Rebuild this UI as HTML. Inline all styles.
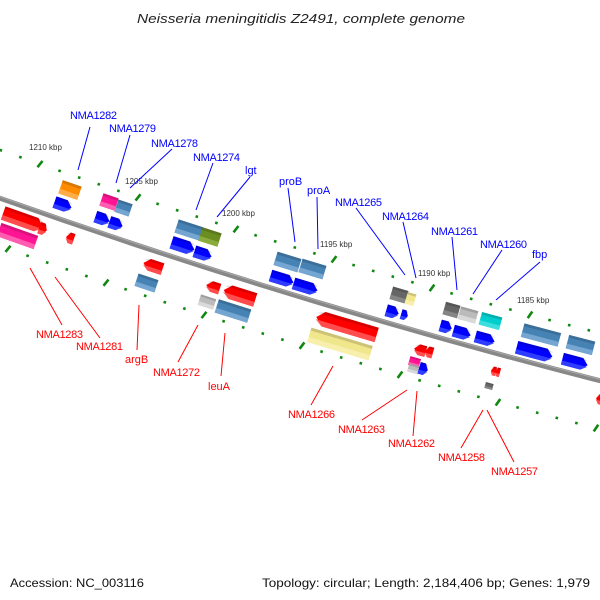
<!DOCTYPE html>
<html><head><meta charset="utf-8"><style>
body{margin:0;background:#fff;width:600px;height:600px;overflow:hidden}
svg{display:block}
text{font-family:"Liberation Sans","DejaVu Sans",sans-serif}
</style></head><body>
<svg id="s" width="600" height="600" viewBox="0 0 600 600" xmlns="http://www.w3.org/2000/svg">
<text x="137" y="23" textLength="328" lengthAdjust="spacingAndGlyphs" font-size="13" font-style="italic" fill="#222">Neisseria meningitidis Z2491, complete genome</text>
<path d="M-5,196.5 Q300,304.5 605,382" stroke="#888" stroke-width="5" fill="none"/>
<path d="M-5,195 Q300,303 605,380.5" stroke="#aaa" stroke-width="1" fill="none"/>
<g id="ticks"></g>
<g id="feats"></g>
<g font-size="8" fill="#333">
<text x="29" y="150">1210 kbp</text><text x="125" y="184">1205 kbp</text><text x="222" y="216">1200 kbp</text>
<text x="320" y="247">1195 kbp</text><text x="418" y="276">1190 kbp</text><text x="517" y="303">1185 kbp</text>
</g>
<g font-size="11" fill="#0000ff">
<text x="70" y="119" textLength="47">NMA1282</text><text x="109" y="132" textLength="47">NMA1279</text><text x="151" y="147" textLength="47">NMA1278</text>
<text x="193" y="161" textLength="47">NMA1274</text><text x="245" y="174">lgt</text><text x="279" y="185">proB</text>
<text x="307" y="194">proA</text><text x="335" y="206" textLength="47">NMA1265</text><text x="382" y="220" textLength="47">NMA1264</text>
<text x="431" y="235" textLength="47">NMA1261</text><text x="480" y="248" textLength="47">NMA1260</text><text x="532" y="258">fbp</text>
</g>
<g stroke="#0000ff" stroke-width="1">
<line x1="90" y1="127" x2="78" y2="170"/><line x1="130" y1="135" x2="116" y2="183"/><line x1="172" y1="149" x2="130" y2="188"/>
<line x1="213" y1="163" x2="196" y2="210"/><line x1="250" y1="177" x2="217" y2="217"/><line x1="288" y1="188" x2="295" y2="242"/>
<line x1="317" y1="197" x2="318" y2="249"/><line x1="356" y1="208" x2="405" y2="275"/><line x1="403" y1="222" x2="416" y2="278"/>
<line x1="452" y1="237" x2="457" y2="290"/><line x1="502" y1="250" x2="473" y2="294"/><line x1="540" y1="262" x2="496" y2="300"/>
</g>
<g font-size="11" fill="#ff0000">
<text x="36" y="338" textLength="47">NMA1283</text><text x="76" y="350" textLength="47">NMA1281</text><text x="125" y="363">argB</text>
<text x="153" y="376" textLength="47">NMA1272</text><text x="208" y="390">leuA</text><text x="288" y="418" textLength="47">NMA1266</text>
<text x="338" y="433" textLength="47">NMA1263</text><text x="388" y="447" textLength="47">NMA1262</text><text x="438" y="461" textLength="47">NMA1258</text>
<text x="491" y="475" textLength="47">NMA1257</text>
</g>
<g stroke="#ff0000" stroke-width="1">
<line x1="30" y1="268" x2="62" y2="325"/><line x1="55" y1="277" x2="100" y2="338"/><line x1="139" y1="305" x2="137" y2="350"/>
<line x1="198" y1="325" x2="178" y2="362"/><line x1="225" y1="333" x2="221" y2="376"/><line x1="333" y1="366" x2="311" y2="405"/>
<line x1="407" y1="390" x2="362" y2="420"/><line x1="417" y1="391" x2="413" y2="436"/><line x1="483" y1="410" x2="461" y2="448"/>
<line x1="487" y1="410" x2="514" y2="462"/>
</g>
<text x="10" y="587" font-size="12" fill="#111" textLength="134" lengthAdjust="spacingAndGlyphs">Accession: NC_003116</text>
<text x="262" y="587" font-size="12" fill="#111" textLength="328" lengthAdjust="spacingAndGlyphs">Topology: circular; Length: 2,184,406 bp; Genes: 1,979</text>
</svg>
<script>
var NS="http://www.w3.org/2000/svg";
function yl(x){return 198+0.355*x-8.3e-5*x*x;}
function ang(x){return Math.atan(0.355-2*8.3e-5*x)*180/Math.PI;}
function el(p,tag,a){var e=document.createElementNS(NS,tag);for(var k in a)e.setAttribute(k,a[k]);p.appendChild(e);return e;}
var T=document.getElementById("ticks");
for(var i=-3;i<34;i++){var x=40+i*19.6;var big=(i%5==0);
 [[-48],[48]].forEach(function(o){var xx=o[0]>0?x-32:x;var y=yl(xx)+o[0];
  var g=el(T,"g",{transform:"translate("+xx+","+y+") rotate("+(ang(xx)+(big?-70:0))+")"});
  el(g,"rect",{x:big?-4:-1.3,y:-1.3,width:big?8:2.6,height:2.6,fill:"#118811"});});}
var F=document.getElementById("feats");
function f(x1,x2,cy,h,col,lt,type){var cx=(x1+x2)/2,w=x2-x1;
 var g=el(F,"g",{transform:"translate("+cx+","+cy+") rotate("+ang(cx)+")"});
 var hw=w/2,hh=h/2,a=Math.min(h*0.5,w*0.4),p;
 if(type=="r")p=[[-hw,-hh],[hw-a,-hh],[hw,0],[hw-a,hh],[-hw,hh]];
 else if(type=="l")p=[[hw,-hh],[-hw+a,-hh],[-hw,0],[-hw+a,hh],[hw,hh]];
 else p=[[-hw,-hh],[hw,-hh],[hw,hh],[-hw,hh]];
 el(g,"polygon",{points:p.map(function(q){return q.join(",")}).join(" "),fill:col});
 el(g,"polygon",{points:p.map(function(q){return q[0]+","+Math.max(q[1],hh*0.3)}).join(" "),fill:lt,opacity:0.9});
 el(g,"polygon",{points:p.map(function(q){return q[0]+","+Math.min(q[1],-hh*0.6)}).join(" "),fill:"#000",opacity:0.15});}
var R="#ff0000",RL="#ff5555",B="#0000ff",BL="#3344ff",S="#4682b4",SL="#7aa9d4",Y="#f0e68c",YL="#f8f0b0";
f(2,44,220,14,R,RL,"r");f(39,47,229,12,R,RL,"r");f(-2,37,236,14,"#ff1493","#ff66b4","b");
f(66,74,238,11,R,RL,"l");
f(60,80,190,14,"#ff8c00","#ffb050","b");f(54,72,205,12,B,BL,"r");
f(101,117,202,13,"#ff1493","#ff66b4","b");f(116,131,208,13,S,SL,"b");f(95,110,219,12,B,BL,"r");f(109,123,224,12,B,BL,"r");
f(176,202,230,14,S,SL,"b");f(200,220,237,14,"#6b8e23","#8faf40","b");f(171,195,246,13,B,BL,"r");f(194,212,254,12,B,BL,"r");
f(275,300,262,14,S,SL,"b");f(300,325,269,14,S,SL,"b");f(270,294,279,12,B,BL,"r");f(293,318,287,12,B,BL,"r");
f(391,407,295,13,"#666","#888","b");f(406,415,299,12,Y,YL,"b");f(386,399,312,12,B,BL,"r");f(401,408,315,10,B,BL,"r");
f(444,459,310,13,"#666","#888","b");f(459,477,315,13,"#bbb","#ddd","b");f(480,501,321,13,"#00cdcd","#40e0e0","b");
f(440,452,327,12,B,BL,"r");f(453,471,333,12,B,BL,"r");f(475,495,339,12,B,BL,"r");
f(522,560,335,14,S,SL,"b");f(516,553,352,13,B,BL,"r");f(567,594,345,14,S,SL,"b");f(562,588,362,12,B,BL,"r");
f(143,163,266,12,R,RL,"l");f(136,157,283,13,S,SL,"b");
f(206,220,287,11,R,RL,"l");f(199,215,302,11,"#bbb","#ddd","b");f(223,256,295,14,R,RL,"l");f(216,250,311,14,S,SL,"b");
f(315,378,326,15,R,RL,"l");f(308,372,344,15,Y,YL,"b");
f(414,426,350,11,R,RL,"l");f(425,433,352,11,R,RL,"l");f(409,420,362,9,"#ff1493","#ff66b4","b");f(408,419,369,8,"#bbb","#ddd","b");f(419,428,369,12,B,BL,"r");
f(491,496,371,9,R,RL,"l");f(495,500,372,9,R,RL,"l");f(485,493,386,6,"#666","#888","b");
f(596,604,399,11,R,RL,"l");
</script>
</body></html>
